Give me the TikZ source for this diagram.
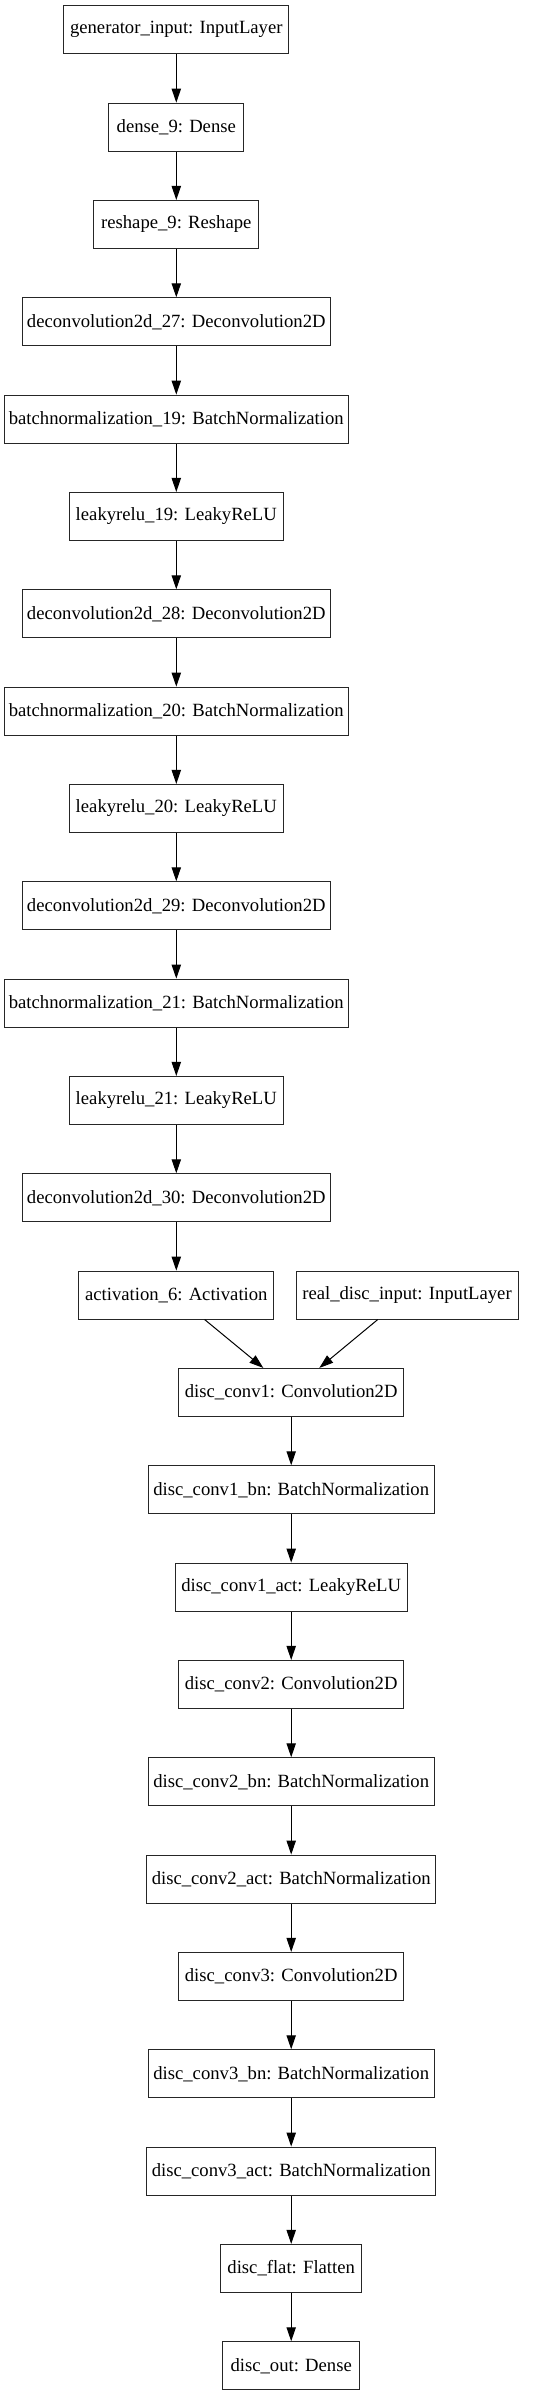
\documentclass[tikz,border=0pt]{standalone}
\usepackage{fontspec}
\setmainfont{Liberation Serif}
\usetikzlibrary{arrows.meta}
\begin{document}
\begin{tikzpicture}[x=0.75pt,y=-0.75pt,
  box/.style={draw=black!85, line width=0.75pt, rectangle, inner sep=0pt,
    minimum height=36pt, font=\fontsize{14}{16}\selectfont, text=black},
  conn/.style={line width=0.75pt, -{Triangle[length=10.5pt,width=7pt]}}]
\useasboundingbox (0,0) rectangle (541,2396);
\def\r#1{29.8+97.33*#1}
% generator chain (center x = 176.3)
\node[box, minimum width=168.5pt] (n0) at (176.3,{\r{0}}) {generator\_input: InputLayer};
\node[box, minimum width=101pt] (n1) at (176.3,{\r{1}}) {dense\_9: Dense};
\node[box, minimum width=123.5pt] (n2) at (176.3,{\r{2}}) {reshape\_9: Reshape};
\node[box, minimum width=231pt] (n3) at (176.3,{\r{3}}) {deconvolution2d\_27: Deconvolution2D};
\node[box, minimum width=257.8pt] (n4) at (176.3,{\r{4}}) {batchnormalization\_19: BatchNormalization};
\node[box, minimum width=160.5pt] (n5) at (176.3,{\r{5}}) {leakyrelu\_19: LeakyReLU};
\node[box, minimum width=231pt] (n6) at (176.3,{\r{6}}) {deconvolution2d\_28: Deconvolution2D};
\node[box, minimum width=257.8pt] (n7) at (176.3,{\r{7}}) {batchnormalization\_20: BatchNormalization};
\node[box, minimum width=160.5pt] (n8) at (176.3,{\r{8}}) {leakyrelu\_20: LeakyReLU};
\node[box, minimum width=231pt] (n9) at (176.3,{\r{9}}) {deconvolution2d\_29: Deconvolution2D};
\node[box, minimum width=257.8pt] (n10) at (176.3,{\r{10}}) {batchnormalization\_21: BatchNormalization};
\node[box, minimum width=160.5pt] (n11) at (176.3,{\r{11}}) {leakyrelu\_21: LeakyReLU};
\node[box, minimum width=231pt] (n12) at (176.3,{\r{12}}) {deconvolution2d\_30: Deconvolution2D};
\node[box, minimum width=146pt] (act) at (176.3,{\r{13}}) {activation\_6: Activation};
\node[box, minimum width=166.5pt] (real) at (407,{\r{13}}) {real\_disc\_input: InputLayer};
% discriminator chain (center x = 291.2)
\node[box, minimum width=168.8pt] (d1) at (291.2,{\r{14}}) {disc\_conv1: Convolution2D};
\node[box, minimum width=214.5pt] (d2) at (291.2,{\r{15}}) {disc\_conv1\_bn: BatchNormalization};
\node[box, minimum width=173.8pt] (d3) at (291.2,{\r{16}}) {disc\_conv1\_act: LeakyReLU};
\node[box, minimum width=168.8pt] (d4) at (291.2,{\r{17}}) {disc\_conv2: Convolution2D};
\node[box, minimum width=214.5pt] (d5) at (291.2,{\r{18}}) {disc\_conv2\_bn: BatchNormalization};
\node[box, minimum width=216.5pt] (d6) at (291.2,{\r{19}}) {disc\_conv2\_act: BatchNormalization};
\node[box, minimum width=168.8pt] (d7) at (291.2,{\r{20}}) {disc\_conv3: Convolution2D};
\node[box, minimum width=214.5pt] (d8) at (291.2,{\r{21}}) {disc\_conv3\_bn: BatchNormalization};
\node[box, minimum width=216.5pt] (d9) at (291.2,{\r{22}}) {disc\_conv3\_act: BatchNormalization};
\node[box, minimum width=106pt] (d10) at (291.2,{\r{23}}) {disc\_flat: Flatten};
\node[box, minimum width=102.5pt] (d11) at (291.2,{\r{24}}) {disc\_out: Dense};
% connectors
\foreach \a/\b in {n0/n1,n1/n2,n2/n3,n3/n4,n4/n5,n5/n6,n6/n7,n7/n8,n8/n9,n9/n10,n10/n11,n11/n12,n12/act,
  d1/d2,d2/d3,d3/d4,d4/d5,d5/d6,d6/d7,d7/d8,d8/d9,d9/d10,d10/d11}
  \draw[conn] (\a.south) -- (\b.north);
\draw[conn] ([xshift=21.3pt]act.south) -- ([xshift=-20.9pt]d1.north);
\draw[conn] ([xshift=-22pt]real.south) -- ([xshift=21.1pt]d1.north);
\end{tikzpicture}
\end{document}
